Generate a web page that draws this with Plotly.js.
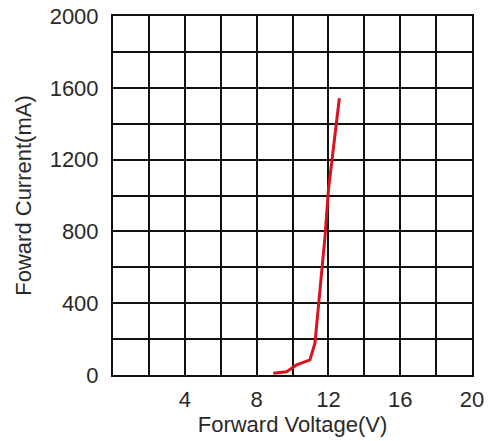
<!DOCTYPE html>
<html>
<head>
<meta charset="utf-8">
<script src="https://cdn.plot.ly/plotly-3.0.1.min.js"></script>
<style>html,body{margin:0;padding:0;background:#fff;}#chart{width:495px;height:441px;}</style>
</head>
<body>
<div id="chart"></div>
<script>
// Forward voltage (V) vs forward current (mA)
const voltage = [8.93, 9.67, 10.23, 10.97, 11.25, 11.44, 11.63, 11.81, 12.0, 12.27, 12.46, 12.61];
const current = [10, 18, 56, 84, 177, 380, 603, 770, 1030, 1254, 1384, 1542];

const xTickVals = [0, 2, 4, 6, 8, 10, 12, 14, 16, 18, 20];
const xTickText = ["", "", "4", "", "8", "", "12", "", "16", "", "20"];
const yTickVals = [0, 200, 400, 600, 800, 1000, 1200, 1400, 1600, 1800, 2000];
const yTickText = ["0", "", "400", "", "800", "", "1200", "", "1600", "", "2000"];

const tickFont = {family: "Liberation Sans, Arial, sans-serif", size: 22, color: "#2a2a2a"};
const titleFont = {family: "Liberation Sans, Arial, sans-serif", size: 22, color: "#2a2a2a"};

Plotly.newPlot("chart", [{
  x: voltage, y: current, type: "scatter", mode: "lines",
  line: {color: "#d7141e", width: 3}, hoverinfo: "skip"
}], {
  width: 495, height: 441,
  margin: {l: 113, r: 23, t: 16, b: 66, pad: 0},
  paper_bgcolor: "#fff", plot_bgcolor: "#fff",
  showlegend: false,
  font: tickFont,
  xaxis: {
    range: [0, 20], tickmode: "array", tickvals: xTickVals, ticktext: xTickText,
    showgrid: true, gridcolor: "#111", gridwidth: 2, zeroline: false,
    showline: true, linecolor: "#111", linewidth: 2, mirror: true,
    ticks: "", ticklabelstandoff: 4, tickfont: tickFont,
    title: {text: "Forward Voltage(V)", font: titleFont, standoff: 4}
  },
  yaxis: {
    range: [0, 2000], tickmode: "array", tickvals: yTickVals, ticktext: yTickText,
    showgrid: true, gridcolor: "#111", gridwidth: 2, zeroline: false,
    showline: true, linecolor: "#111", linewidth: 2, mirror: true,
    ticks: "", ticklabelstandoff: 8, tickfont: tickFont,
    title: {text: "Foward Current(mA)", font: titleFont, standoff: 12}
  }
}, {staticPlot: true, displayModeBar: false});
</script>
</body>
</html>
